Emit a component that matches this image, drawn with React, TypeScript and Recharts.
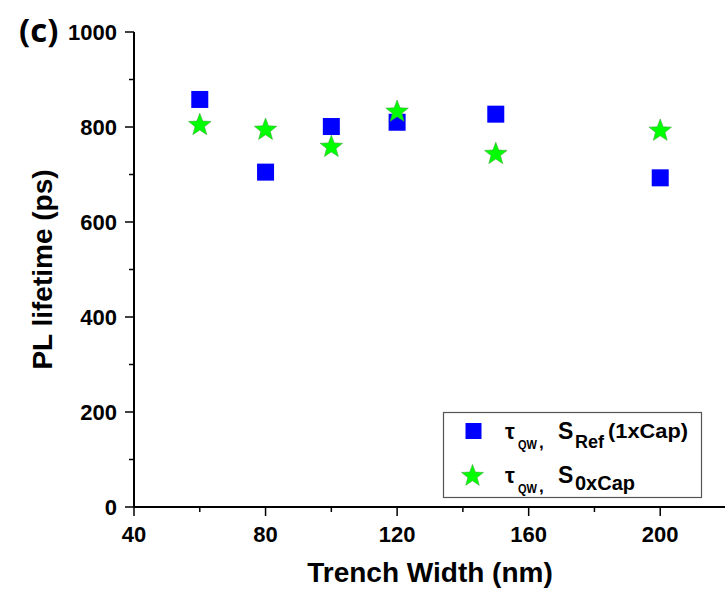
import React from 'react';
import { ScatterChart, Scatter, XAxis, YAxis } from 'recharts';

// trench widths (nm) and PL lifetimes (ps)
const trenchWidths = [60, 80, 100, 120, 150, 200];
const tauRefCap = [858, 705, 801, 810, 827, 693];
const tauNoCap = [804, 794, 758, 832, 743, 792];

const xTicks = [40, 60, 80, 100, 120, 140, 160, 180, 200, 220];
const xLabels = [40, 80, 120, 160, 200];
const yTicks = [0, 100, 200, 300, 400, 500, 600, 700, 800, 900, 1000];
const yLabels = [0, 200, 400, 600, 800, 1000];

const refData = trenchWidths.map((w, i) => ({ w, tau: tauRefCap[i] }));
const noCapData = trenchWidths.map((w, i) => ({ w, tau: tauNoCap[i] }));

const FONT = '"Liberation Sans", Arial, sans-serif';
const MAJOR = 9;
const MINOR = 5;

const starPath = (cx: number, cy: number, r: number) => {
  const inner = r * 0.42;
  let d = '';
  for (let i = 0; i < 10; i++) {
    const rad = i % 2 === 0 ? r : inner;
    const a = (Math.PI / 5) * i - Math.PI / 2;
    d += (i === 0 ? 'M' : 'L') + (cx + rad * Math.cos(a)).toFixed(2) + ',' + (cy + rad * Math.sin(a)).toFixed(2);
  }
  return d + 'Z';
};

const SquareDot = (p: any) => (
  <rect x={p.cx - 8.5} y={p.cy - 8.5} width={17} height={17} fill="#0000ff" />
);

const StarDot = (p: any) => (
  <path d={starPath(p.cx, p.cy, 11.8)} fill="#00ff00" stroke="#3aa83a" strokeWidth={0.6} />
);

const AxisTick = (props: any) => {
  const { x, y, payload, side } = props;
  const v = payload.value;
  const horiz = side === 'bottom' || side === 'top';
  const major = horiz ? xLabels.includes(v) : yLabels.includes(v);
  const len = major ? MAJOR : MINOR;
  const line = { stroke: '#000', strokeWidth: 1.5 };
  if (side === 'left') {
    return (
      <g>
        <line x1={x - len} y1={y} x2={x} y2={y} {...line} />
        {major && (
          <text x={x - 17} y={y} dy="0.36em" textAnchor="end" fontFamily={FONT} fontWeight="bold" fontSize={22} fill="#000">
            {v}
          </text>
        )}
      </g>
    );
  }
  if (side === 'bottom') {
    return (
      <g>
        <line x1={x} y1={y} x2={x} y2={y + len} {...line} />
        {major && (
          <text x={x} y={y + 35} textAnchor="middle" fontFamily={FONT} fontWeight="bold" fontSize={22} fill="#000">
            {v}
          </text>
        )}
      </g>
    );
  }
  if (side === 'top') {
    return <line x1={x} y1={y} x2={x} y2={y + len} {...line} />;
  }
  return <line x1={x - len} y1={y} x2={x} y2={y} {...line} />;
};

const axisLine = { stroke: '#000', strokeWidth: 2 };

export default function App() {
  return (
    <div style={{ position: 'absolute', left: 0, top: 0, width: 725, height: 598, overflow: 'hidden', background: '#fff' }}>
      <ScatterChart width={728} height={598} margin={{ top: 32, right: 2, bottom: 0, left: 0 }}>
        <XAxis
          xAxisId={0}
          type="number"
          dataKey="w"
          domain={[40, 220]}
          ticks={xTicks}
          interval={0}
          tickSize={0}
          tickMargin={0}
          height={91}
          axisLine={axisLine}
          tickLine={false}
          tick={<AxisTick side="bottom" />}
          label={{
            content: (p: any) => {
              const vb = p.viewBox;
              return (
                <text x={vb.x + vb.width / 2} y={vb.y + 75} textAnchor="middle" fontFamily={FONT} fontWeight="bold" fontSize={28} fill="#000">
                  Trench Width (nm)
                </text>
              );
            },
          }}
        />
        <XAxis
          xAxisId="top"
          orientation="top"
          type="number"
          dataKey="w"
          domain={[40, 220]}
          ticks={xTicks}
          interval={0}
          tickSize={0}
          tickMargin={0}
          height={0}
          axisLine={axisLine}
          tickLine={false}
          tick={<AxisTick side="top" />}
        />
        <YAxis
          yAxisId={0}
          type="number"
          dataKey="tau"
          domain={[0, 1000]}
          ticks={yTicks}
          interval={0}
          tickSize={0}
          tickMargin={0}
          width={134}
          axisLine={axisLine}
          tickLine={false}
          tick={<AxisTick side="left" />}
          label={{
            content: (p: any) => {
              const vb = p.viewBox;
              const cx = vb.x + 52;
              const cy = vb.y + vb.height / 2;
              return (
                <text x={cx} y={cy} transform={`rotate(-90, ${cx}, ${cy})`} textAnchor="middle" fontFamily={FONT} fontWeight="bold" fontSize={28} fill="#000">
                  PL lifetime (ps)
                </text>
              );
            },
          }}
        />
        <YAxis
          yAxisId="right"
          orientation="right"
          type="number"
          dataKey="tau"
          domain={[0, 1000]}
          ticks={yTicks}
          interval={0}
          tickSize={0}
          tickMargin={0}
          width={0}
          axisLine={axisLine}
          tickLine={false}
          tick={<AxisTick side="right" />}
        />
        <Scatter data={refData} xAxisId={0} yAxisId={0} shape={SquareDot} isAnimationActive={false} />
        <Scatter data={noCapData} xAxisId={0} yAxisId={0} shape={StarDot} isAnimationActive={false} />
      </ScatterChart>

      <svg width={725} height={598} style={{ position: 'absolute', left: 0, top: 0, pointerEvents: 'none' }}>
        <text x={19} y={42} fontFamily='"Open Sans", sans-serif' fontWeight="bold" fontSize={33} fill="#000">
          (c)
        </text>
        <g transform="translate(443, 412)" fontFamily={FONT} fill="#000">
          <rect x={0.5} y={0.5} width={258} height={85} fill="#fff" stroke="#555" strokeWidth={1.2} />
          <rect x={22.5} y={11} width={16} height={16} fill="#0000ff" />
          <path d={starPath(29.5, 64, 11.5)} fill="#00ff00" stroke="#3aa83a" strokeWidth={0.6} />
          <text y={27} fontWeight="bold">
            <tspan x={62} fontSize={22}>τ</tspan>
            <tspan x={75} y={37} fontSize={13} textLength={19} lengthAdjust="spacingAndGlyphs">QW</tspan>
            <tspan x={96} y={36} fontSize={17}>,</tspan>
            <tspan x={115} y={27} fontSize={23}>S</tspan>
            <tspan x={132} y={36} fontSize={18}>Ref</tspan>
            <tspan x={165} y={26} fontSize={21} textLength={80} lengthAdjust="spacingAndGlyphs">(1xCap)</tspan>
          </text>
          <text y={71} fontWeight="bold">
            <tspan x={62} fontSize={22}>τ</tspan>
            <tspan x={75} y={81} fontSize={13} textLength={19} lengthAdjust="spacingAndGlyphs">QW</tspan>
            <tspan x={96} y={80} fontSize={17}>,</tspan>
            <tspan x={115} y={71} fontSize={23}>S</tspan>
            <tspan x={132} y={78} fontSize={20}>0xCap</tspan>
          </text>
        </g>
      </svg>
    </div>
  );
}
